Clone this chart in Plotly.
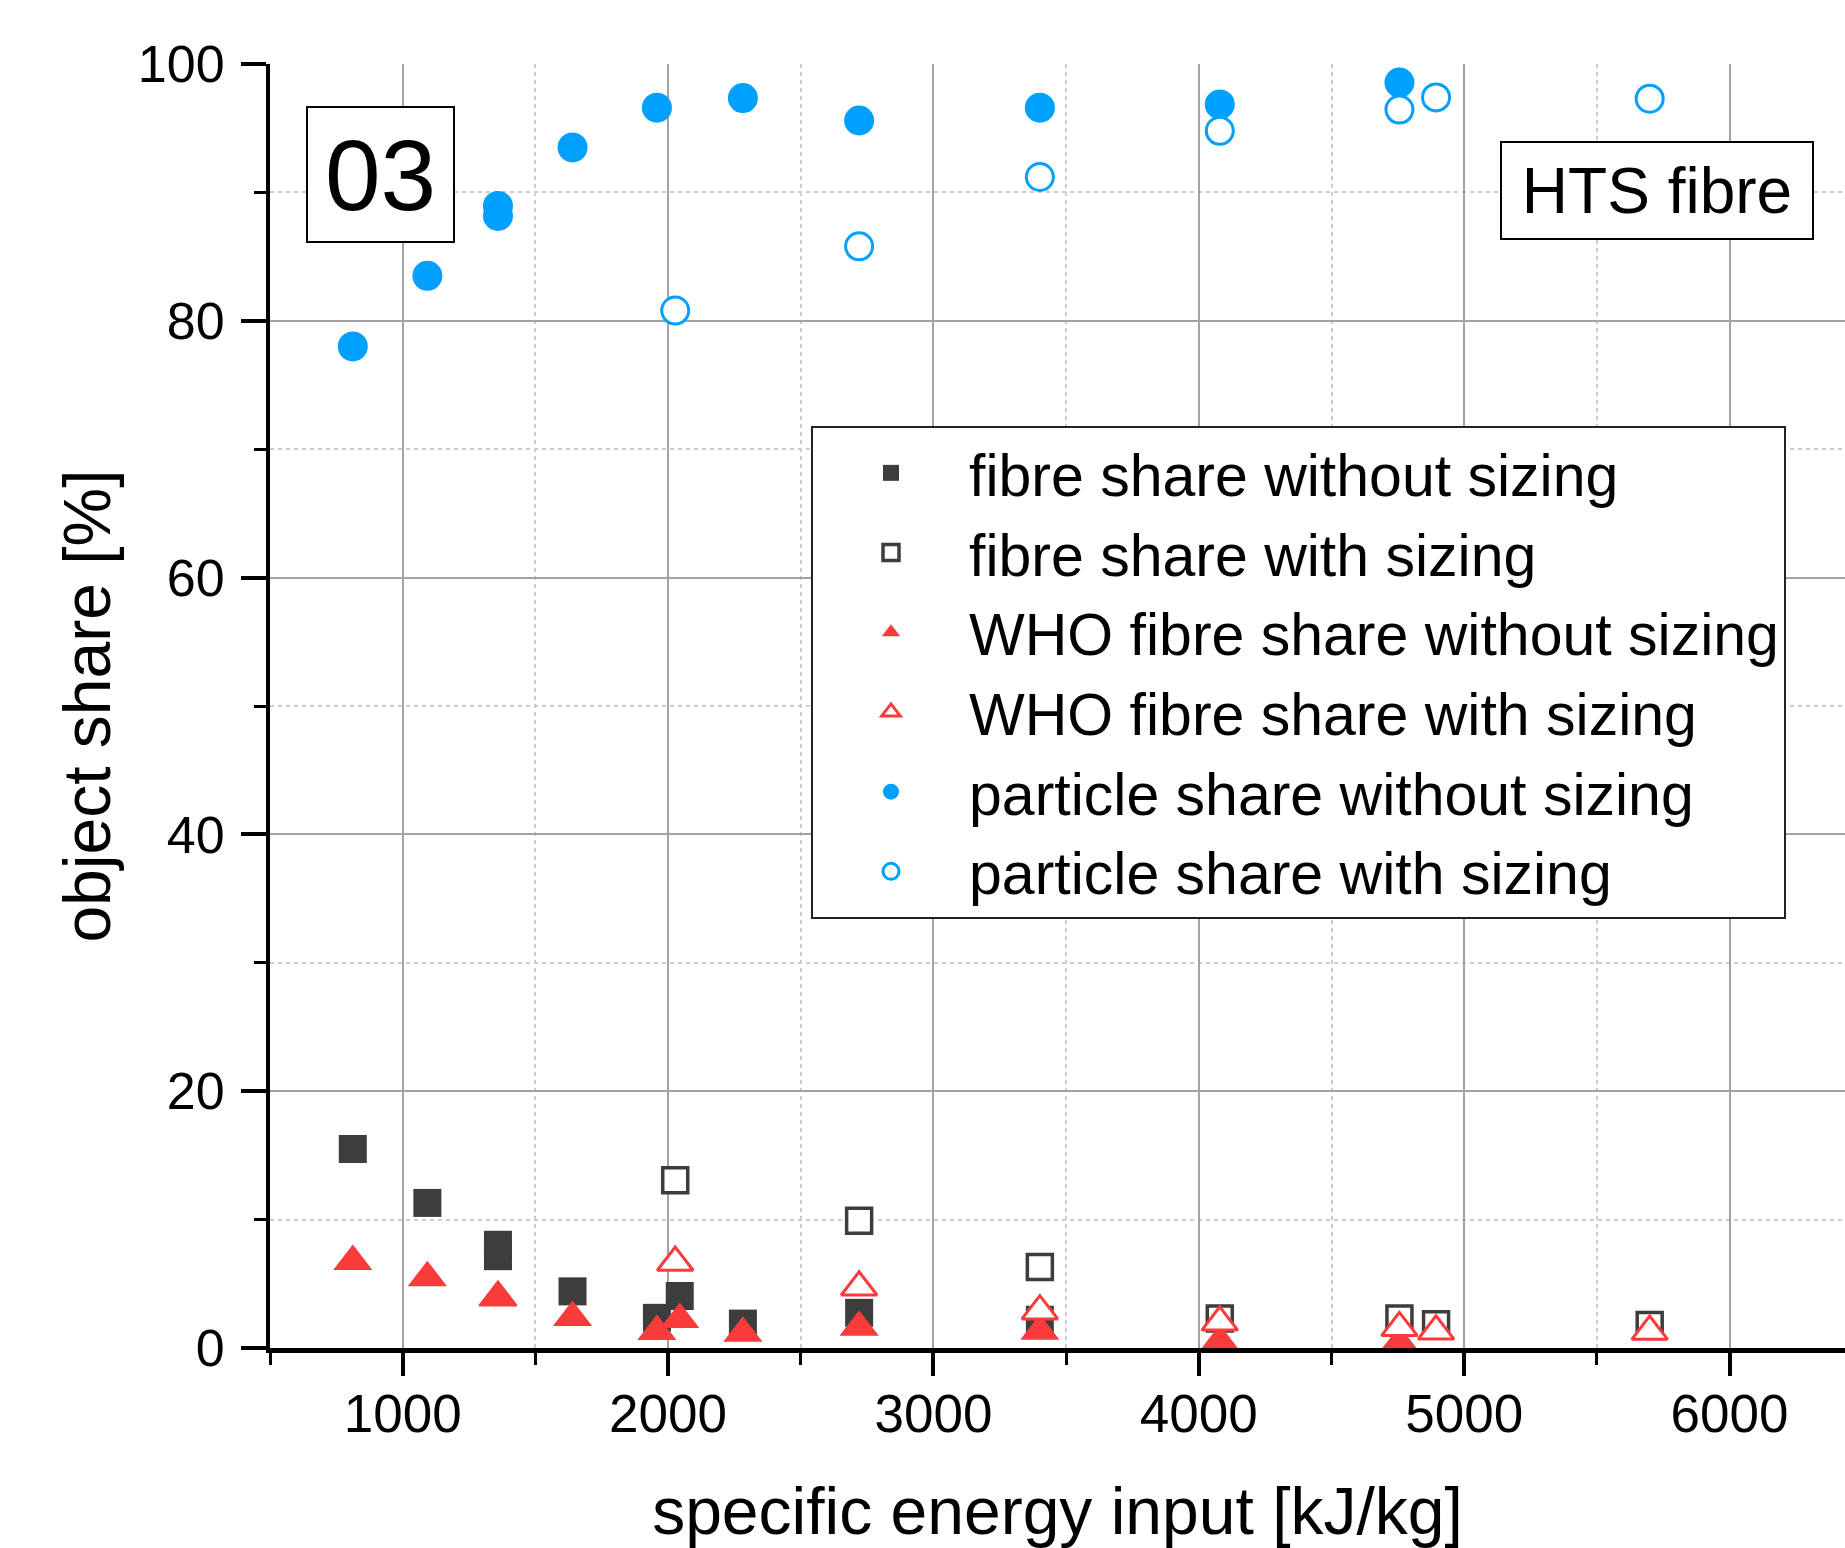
import plotly.graph_objects as go

# ---------------- data ----------------
x_without = [812, 1093, 1359, 1359, 1640, 1958, 2044, 2282, 2720, 3401, 4079, 4756]
fibre_without = [15.5, 11.3, 8.04, 7.15, 4.41, 2.35, 4.05, 1.9, 2.74, 2.2, None, None]
who_without = [6.74, 5.48, 4.0, 3.9, 2.37, 1.28, 2.22, 1.15, 1.62, 1.3, 0.5, 0.4]
particle_without = [78.0, 83.5, 88.95, 88.17, 93.5, 96.6, None, 97.35, 95.6, 96.6, 96.85, 98.55]

x_with = [2027, 2720, 3401, 4079, 4756, 4894, 5699]
fibre_with = [13.06, 9.92, 6.3, 2.3, 2.3, 1.85, 1.8]
who_with = [6.66, 4.73, 2.87, 2.0, 1.57, 1.3, 1.28]
particle_with = [80.8, 85.8, 91.2, 94.8, 96.45, 97.4, 97.3]

names = ["fibre share without sizing", "fibre share with sizing",
         "WHO fibre share without sizing", "WHO fibre share with sizing",
         "particle share without sizing", "particle share with sizing"]

x_range = [500, 6435]
y_range = [0, 100]

# ---------------- styling ----------------
FONT = "Liberation Sans, Arial, sans-serif"
DARK = "#3d3d3d"
RED = "#f93b3b"
BLUE = "#00a0ff"

W, H = 1845, 1548
ML, MR, MT, MB = 270, 0, 64, 200

fig = go.Figure()

def add(x, y, name, symbol, fill, line_color, size, lw):
    fig.add_trace(go.Scatter(
        x=x, y=y, name=name, mode="markers",
        marker=dict(symbol=symbol, size=size, color=fill,
                    line=dict(color=line_color, width=lw)),
    ))

add(x_without, fibre_without, names[0], "square", DARK, DARK, 28, 0)
add(x_with, fibre_with, names[1], "square", "white", DARK, 25, 3.5)
add(x_without, who_without, names[2], "triangle-up", RED, RED, 34, 0)
add(x_with, who_with, names[3], "triangle-up", "white", RED, 31, 3)
add(x_without, particle_without, names[4], "circle", BLUE, BLUE, 30, 0)
add(x_with, particle_with, names[5], "circle", "white", BLUE, 27, 3)

axis_common = dict(showline=True, linecolor="black", zeroline=False,
                   tickcolor="black")

fig.update_layout(
    width=W, height=H,
    margin=dict(l=ML, r=MR, t=MT, b=MB, autoexpand=False),
    paper_bgcolor="white", plot_bgcolor="white",
    font=dict(family=FONT, color="black"),
    xaxis=dict(
        **axis_common, range=x_range, linewidth=4.5,
        tickmode="linear", tick0=0, dtick=1000,
        ticks="outside", ticklen=23, tickwidth=3.5,
        tickfont=dict(size=53), ticklabelstandoff=-7,
        showgrid=True, gridcolor="#a3a3a3", gridwidth=2,
        minor=dict(dtick=500, tick0=0, ticks="outside", ticklen=12, tickwidth=3,
                   tickcolor="black", showgrid=True, gridcolor="#cccccc",
                   gridwidth=2, griddash="4px,4px"),
        title=dict(text="specific energy input [kJ/kg]", font=dict(size=66),
                   standoff=50),
        automargin=False,
    ),
    yaxis=dict(
        **axis_common, range=y_range, linewidth=4,
        tickmode="linear", tick0=0, dtick=20,
        ticks="outside", ticklen=25, tickwidth=3.5,
        tickfont=dict(size=52), ticklabelstandoff=6,
        showgrid=True, gridcolor="#a3a3a3", gridwidth=2,
        minor=dict(dtick=10, tick0=0, ticks="outside", ticklen=12, tickwidth=3,
                   tickcolor="black", showgrid=True, gridcolor="#cccccc",
                   gridwidth=2, griddash="4px,4px"),
        title=dict(text="object share [%]", font=dict(size=66), standoff=7),
        automargin=False,
    ),
    xaxis2=dict(
        overlaying="x", side="top", anchor="y", range=x_range,
        showline=True, linecolor="black", linewidth=3.5, zeroline=False,
        tickmode="linear", tick0=0, dtick=1000,
        ticks="inside", ticklen=26, tickwidth=3.5, tickcolor="black",
        showticklabels=False, showgrid=False,
        minor=dict(dtick=500, tick0=0, ticks="inside", ticklen=12, tickwidth=3,
                   tickcolor="black", showgrid=False),
    ),
    yaxis2=dict(
        overlaying="y", side="right", anchor="x", range=y_range,
        showline=False, zeroline=False,
        tickmode="linear", tick0=0, dtick=20,
        ticks="inside", ticklen=10, tickwidth=3.5, tickcolor="black",
        showticklabels=False, showgrid=False,
    ),
    legend=dict(
        x=(811 - ML) / (W - ML - MR), y=(H - MB - 426) / (H - MT - MB),
        xanchor="left", yanchor="top",
        bgcolor="white", bordercolor="#222222", borderwidth=2,
        font=dict(size=59, family=FONT, color="black"),
        itemwidth=146, tracegroupgap=0,
    ),
    showlegend=True,
)

fig.add_annotation(
    text="03", xref="paper", yref="paper",
    x=(380.7 - ML) / (W - ML - MR), y=(H - MB - 174.7) / (H - MT - MB),
    xanchor="center", yanchor="middle", showarrow=False,
    font=dict(size=100, family=FONT, color="black"),
    width=125, height=113,
    bordercolor="black", borderwidth=2, borderpad=10, bgcolor="white",
)
fig.add_annotation(
    text="HTS fibre", xref="paper", yref="paper",
    x=(1657 - ML) / (W - ML - MR), y=(H - MB - 190.6) / (H - MT - MB),
    xanchor="center", yanchor="middle", showarrow=False,
    font=dict(size=64, family=FONT, color="black"),
    width=290, height=75,
    bordercolor="black", borderwidth=2, borderpad=10, bgcolor="white",
)

fig.write_html("out.html", config={"displayModeBar": False},
               post_script="document.body.style.margin='0px';")
